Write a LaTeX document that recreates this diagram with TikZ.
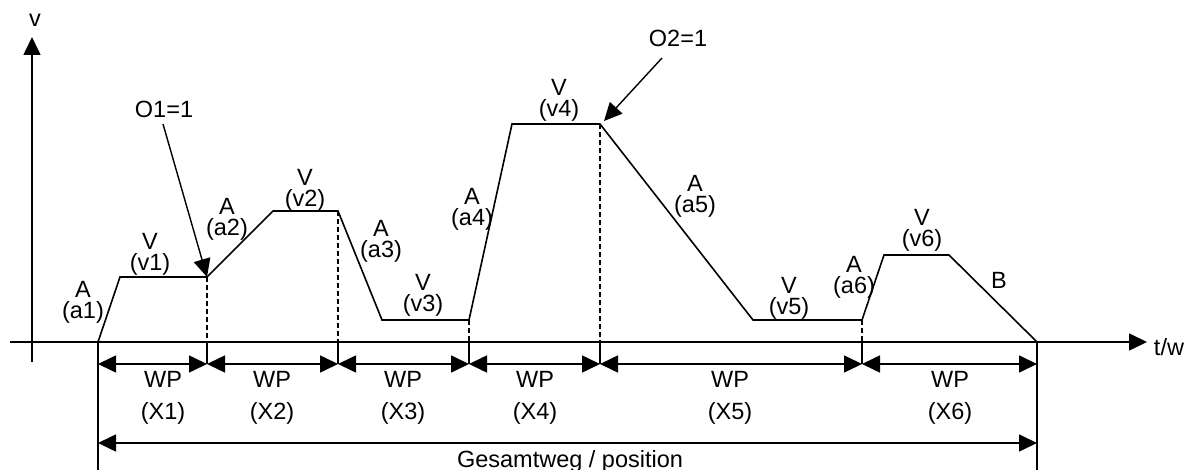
\documentclass[tikz,border=0pt]{standalone}
\usepackage{fontspec}
\setmainfont{Liberation Sans}
\usetikzlibrary{arrows.meta}
\begin{document}
\begin{tikzpicture}[x=1pt,y=-1pt,
  line width=1.6pt,
  tri/.style={-{Triangle[length=18pt,width=17pt]}},
  dimarr/.style={{Triangle[length=18pt,width=17pt]}-{Triangle[length=18pt,width=17pt]}},
  guide/.style={line width=1.3pt,dash pattern=on 5pt off 3pt},
  lbl/.style={font=\fontsize{23.5}{27}\selectfont,inner sep=0pt,anchor=base},
  two/.style={font=\fontsize{23.5}{21.5}\selectfont,inner sep=0pt,anchor=base,align=center}]
\useasboundingbox (0,0) rectangle (1194,470);
% axes
\coordinate (yb) at (32,362);
\coordinate (yt) at (32,37);
\coordinate (xl) at (10,342);
\coordinate (xr) at (1147,342);
\draw[tri] (yb) -- (yt);
\draw[tri] (xl) -- (xr);
\node[lbl] (vlab) at (35,27) {v};
\node[lbl] (twlab) at (1169,355) {t/w};
% profile
\coordinate (p0) at (98,342);
\coordinate (p1) at (120,277);
\coordinate (p2) at (207,277);
\coordinate (p3) at (273,211);
\coordinate (p4) at (338,211);
\coordinate (p5) at (382,320);
\coordinate (p6) at (469,320);
\coordinate (p7) at (512,124);
\coordinate (p8) at (600,124);
\coordinate (p9) at (753,320);
\coordinate (p10) at (862,320);
\coordinate (p11) at (884,255);
\coordinate (p12) at (949,255);
\coordinate (p13) at (1037,342);
\draw[line join=miter] (p0)--(p1)--(p2)--(p3)--(p4)--(p5)--(p6)--(p7)--(p8)--(p9)--(p10)--(p11)--(p12)--(p13);
% boundaries
\foreach \n/\x/\y in {b1/207/277,b2/338/211,b3/469/320,b4/600/124,b5/862/320}{
  \coordinate (\n-top) at (\x,\y);
  \coordinate (\n-ax) at (\x,342);
  \coordinate (\n-dim) at (\x,364);
  \draw[guide] (\n-top) -- (\n-ax);
  \draw (\n-ax) -- (\n-dim);
}
\coordinate (b0-dim) at (98,364);
\coordinate (b6-dim) at (1037,364);
\coordinate (b0-bot) at (98,470);
\coordinate (b6-bot) at (1037,470);
\draw (p0) -- (b0-bot);
\draw (p13) -- (b6-bot);
% WP dimension arrows
\draw[dimarr] (b0-dim) -- (b1-dim);
\draw[dimarr] (b1-dim) -- (b2-dim);
\draw[dimarr] (b2-dim) -- (b3-dim);
\draw[dimarr] (b3-dim) -- (b4-dim);
\draw[dimarr] (b4-dim) -- (b5-dim);
\draw[dimarr] (b5-dim) -- (b6-dim);
\foreach \i/\x in {1/163,2/272,3/403,4/535,5/730,6/950}{
  \node[lbl] (wp\i) at (\x,387) {WP};
  \node[lbl] (xx\i) at (\x,419) {(X\i)};
}
% total
\coordinate (g0) at (98,443);
\coordinate (g1) at (1037,443);
\draw[dimarr] (g0) -- (g1);
\node[lbl] (gesamt) at (570,467) {Gesamtweg / position};
% segment labels (last line baseline at the coordinate)
\node[two] (A1) at (83,319) {A\\(a1)};
\node[two] (V1) at (150,271) {V\\(v1)};
\node[two] (A2) at (227,236) {A\\(a2)};
\node[two] (V2) at (305,207) {V\\(v2)};
\node[two] (A3) at (381,258) {A\\(a3)};
\node[two] (V3) at (423,312) {V\\(v3)};
\node[two] (A4) at (472,226) {A\\(a4)};
\node[two] (V4) at (559,117) {V\\(v4)};
\node[two] (A5) at (695,213) {A\\(a5)};
\node[two] (V5) at (789,315) {V\\(v5)};
\node[two] (A6) at (854,294) {A\\(a6)};
\node[two] (V6) at (922,247) {V\\(v6)};
\node[lbl] (B) at (999,289) {B};
% O markers
\node[lbl] (O1) at (164,118) {O1=1};
\node[lbl] (O2) at (678,47) {O2=1};
\coordinate (o1s) at (163,124);
\coordinate (o2s) at (662,58);
\coordinate (o2t) at (604,121);
\draw[tri,line width=1.4pt] (o1s) -- (p2);
\draw[tri,line width=1.4pt] (o2s) -- (o2t);
\end{tikzpicture}
\end{document}
